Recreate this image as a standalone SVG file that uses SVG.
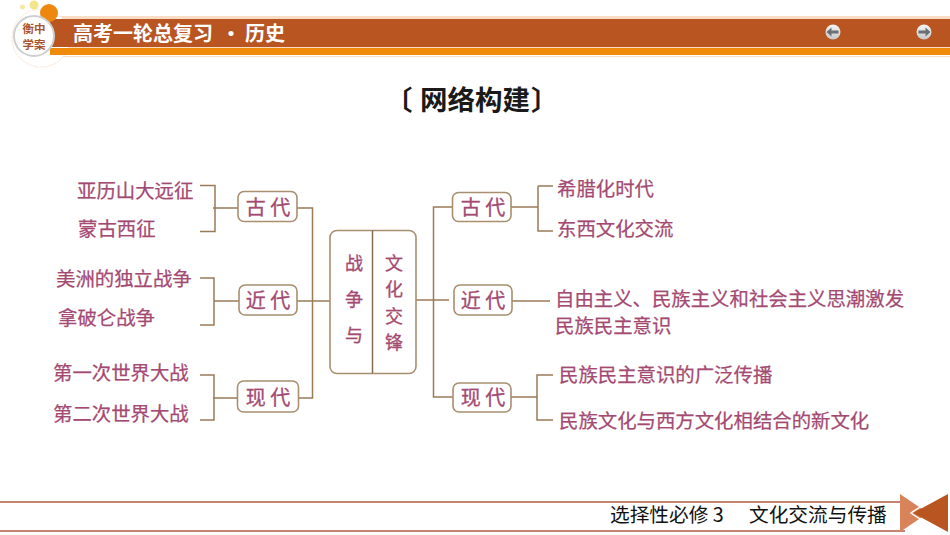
<svg xmlns="http://www.w3.org/2000/svg" width="950" height="535" viewBox="0 0 950 535">
<defs>
<linearGradient id="btn" x1="0" y1="0" x2="0" y2="1"><stop offset="0" stop-color="#f4f4f4"/><stop offset="1" stop-color="#c8c8c8"/></linearGradient>
</defs>
<style>
text{font-family:"Noto Sans CJK SC","Liberation Sans",sans-serif}
.t{font-size:19.4px;fill:#a44a72;stroke:#a44a72;stroke-width:.25}
.b{font-size:20px;fill:#a44a72;stroke:#a44a72;stroke-width:.3;text-anchor:middle}
.m{font-size:18px;fill:#a44a72;stroke:#a44a72;stroke-width:.3;text-anchor:middle}
.c{fill:none;stroke:#9a7b58;stroke-width:1.5}
.n{fill:#fff;stroke:#a88f70;stroke-width:1.6}
.a{fill:#6a7076;stroke:none}
.h{font-size:20px;font-weight:700;fill:#fff}
.f{font-size:19.7px;fill:#111}
.g{font-size:27.5px;font-weight:700;fill:#1a1a1a}
.l{font-size:11.5px;font-weight:700;fill:#a8542c;text-anchor:middle}
</style>
<rect width="950" height="535" fill="#fff"/>
<g id="header">
<rect x="50" y="16" width="900" height="41" fill="#fbdcc4"/>
<rect x="50" y="19" width="900" height="28" fill="#b85521"/>
<rect x="50" y="47" width="900" height="1" fill="#fbdcc4"/>
<rect x="50" y="48" width="900" height="7" fill="#f08a0a"/>
<rect x="50" y="55" width="900" height="1" fill="#fff"/>
<circle cx="41" cy="38" r="29" fill="#fff" stroke="#f3d3bd" stroke-width=".8" stroke-dasharray="1.5 1"/>
<rect x="50" y="19" width="22" height="28" fill="#b85521"/>
<rect x="50" y="48" width="22" height="7" fill="#f08a0a"/>
<circle cx="22.500" cy="7" r="2.500" fill="#f5eaa0"/>
<circle cx="34" cy="5" r="4.500" fill="#f5e58a"/>
<circle cx="49" cy="13" r="9" fill="#ee870f"/>
<circle cx="34" cy="36" r="20" fill="#fff" stroke="#cfcfcf" stroke-width="2"/>
<text class="l" x="34" y="33">衡中</text>
<text class="l" x="34" y="49">学案</text>
<text class="h" x="73" y="41">高考一轮总复习</text>
<text class="h" x="221" y="41">·</text>
<text class="h" x="245" y="41">历史</text>
<g id="btn-prev"><circle cx="833" cy="32" r="7.500" fill="url(#btn)"/><path class="a" d="M826.500 32l5-4.500v3h7v3h-7v3z"/></g>
<g id="btn-next"><circle cx="924" cy="32" r="7.500" fill="url(#btn)"/><path class="a" d="M930.500 32l-5-4.500v3h-7v3h7v3z"/></g>
</g>
<g id="title">
<text class="g" x="385" y="110">〔</text>
<text class="g" x="420" y="110">网络构建</text>
<text class="g" x="531" y="110">〕</text>
</g>
<g id="connectors">
<path class="c" d="M200 185.500H215V231.500H200M213 208H238"/>
<path class="c" d="M200 278H214V325H200M214 301H239"/>
<path class="c" d="M200 375H214V420H200M213 398H238"/>
<path class="c" d="M297 208H312.500V398H297M297 301H330"/>
<path class="c" d="M416 300H449M452 207H433.500V397H453"/>
<path class="c" d="M511 207H538M538 186H553M538 186V231H553"/>
<path class="c" d="M512 301H550"/>
<path class="c" d="M511 397H537M553 375H537V420H553"/>
</g>
<g id="node-center">
<rect class="n" x="330" y="230.500" width="86" height="143" rx="7"/>
<path d="M372.500 230.500V373.500" stroke="#8a6d50" stroke-width="1.500"/>
<text class="m" x="354" y="270">战</text><text class="m" x="354" y="306">争</text><text class="m" x="354" y="342">与</text>
<text class="m" x="394" y="269.500">文</text><text class="m" x="394" y="296">化</text><text class="m" x="394" y="322.500">交</text><text class="m" x="394" y="349">锋</text>
</g>
<g id="node-l1"><rect class="n" x="238" y="191.500" width="59" height="30" rx="6"/><text class="b" x="268" y="215">古 代</text></g>
<g id="node-l2"><rect class="n" x="239" y="285" width="58" height="30" rx="6"/><text class="b" x="268" y="308">近 代</text></g>
<g id="node-l3"><rect class="n" x="237.500" y="381" width="61" height="31" rx="6"/><text class="b" x="268" y="405">现 代</text></g>
<g id="node-r1"><rect class="n" x="452.500" y="192.500" width="58.500" height="29" rx="6"/><text class="b" x="483" y="215">古 代</text></g>
<g id="node-r2"><rect class="n" x="454" y="285" width="58" height="30" rx="6"/><text class="b" x="483" y="308">近 代</text></g>
<g id="node-r3"><rect class="n" x="453" y="383" width="58" height="29" rx="6"/><text class="b" x="483" y="405">现 代</text></g>
<g id="labels">
<text class="t" x="77" y="198">亚历山大远征</text>
<text class="t" x="78" y="236">蒙古西征</text>
<text class="t" x="56" y="286">美洲的独立战争</text>
<text class="t" x="58" y="325">拿破仑战争</text>
<text class="t" x="53" y="380">第一次世界大战</text>
<text class="t" x="53" y="421">第二次世界大战</text>
<text class="t" x="557" y="196">希腊化时代</text>
<text class="t" x="557" y="236">东西文化交流</text>
<text class="t" x="555" y="306">自由主义、民族主义和社会主义思潮激发</text>
<text class="t" x="555" y="333">民族民主意识</text>
<text class="t" x="559" y="382">民族民主意识的广泛传播</text>
<text class="t" x="559" y="428">民族文化与西方文化相结合的新文化</text>
</g>
<g id="footer">
<rect x="0" y="501" width="905" height="2" fill="#c98272"/>
<rect x="0" y="530" width="905" height="2" fill="#c98272"/>
<text class="f" x="610" y="522">选择性必修 3</text>
<text class="f" x="749" y="522">文化交流与传播</text>
<path d="M900 494L928 513L900 532z" fill="#d9835a"/>
<path d="M948 494V532L913 513z" fill="#b85521"/>
<path d="M932 499L911 513L932 527" fill="none" stroke="#fff" stroke-width="1.500"/>
</g>
</svg>
